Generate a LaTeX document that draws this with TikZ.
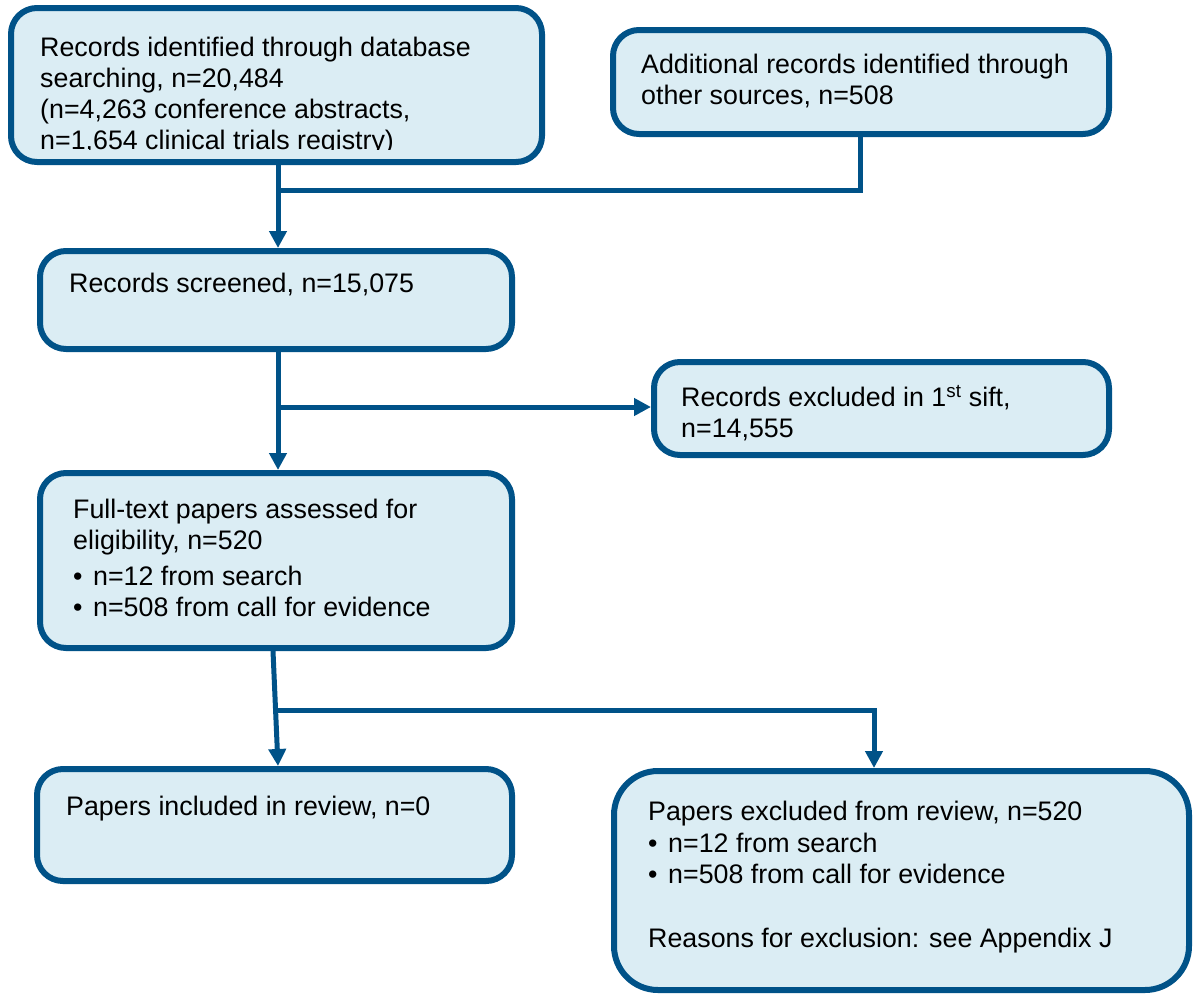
\documentclass[tikz,border=0pt]{standalone}
\usepackage{fontspec}
\setmainfont{Liberation Sans}
\usetikzlibrary{arrows.meta}
\definecolor{boxline}{RGB}{0,82,136}
\definecolor{boxfill}{RGB}{219,237,244}
\begin{document}
\begin{tikzpicture}[x=1pt,y=-1pt,
  flowbox/.style={draw=boxline,fill=boxfill,line width=6pt,rounded corners=26pt,inner sep=0pt},
  boxtext/.style={anchor=north west,inner sep=0pt,align=left,font=\fontsize{26.8}{31}\selectfont,text=black},
  link/.style={draw=boxline,line width=5pt},
  arr/.style={link,-{Triangle[width=17pt,length=17pt]}}]
\useasboundingbox (0,0) rectangle (1197,994);
% boxes
\node[flowbox,minimum width=531pt,minimum height=154pt] (b1) at (276.5,85) {};
\node[flowbox,minimum width=496pt,minimum height=104pt] (b2) at (861,82) {};
\node[flowbox,minimum width=472pt,minimum height=98pt] (b3) at (276,300) {};
\node[flowbox,minimum width=455pt,minimum height=93pt] (b4) at (881.5,408.5) {};
\node[flowbox,minimum width=472pt,minimum height=175pt] (b5) at (276,560.5) {};
\node[flowbox,minimum width=475pt,minimum height=112pt] (b6) at (274.5,825) {};
\node[flowbox,minimum width=575pt,minimum height=219pt,rounded corners=44pt] (b7) at (901.5,880.5) {};
% texts
\begin{scope}
\clip (20,20) rectangle (530,149);
\node[boxtext] (t1) at (40,36.5) {Records identified through database\\searching, n=20,484\\(n=4,263 conference abstracts,\\n=1,654 clinical trials registry)};
\end{scope}
\node[boxtext] (t2) at (641,53.5) {Additional records identified through\\other sources, n=508};
\node[boxtext] (t3) at (69,272.5) {Records screened, n=15,075};
\node[boxtext] (t4) at (681,385.5) {Records excluded in 1\textsuperscript{st} sift,\\n=14,555};
\node[boxtext] (t5) at (73,498.5) {Full-text papers assessed for\\eligibility, n=520\\[5pt]\makebox[20pt][l]{•}n=12 from search\\\makebox[20pt][l]{•}n=508 from call for evidence};
\node[boxtext] (t6) at (66,795.5) {Papers included in review, n=0};
\node[boxtext] (t7) at (648,800.5) {Papers excluded from review, n=520\\[1pt]\makebox[20pt][l]{•}n=12 from search\\\makebox[20pt][l]{•}n=508 from call for evidence\\[33pt]Reasons for exclusion: see Appendix J};
% connectors
\coordinate (j1) at (278,190);
\coordinate (j2) at (278,407);
\coordinate (j3) at (275,710);
\draw[arr] (b1.south -| j1) -- (b3.north -| j1);
\draw[link] (j1) -| (b2.south -| 860,0);
\draw[arr] (b3.south -| j2) -- (b5.north -| j2);
\draw[arr] (j2) -- (b4.west |- j2);
\draw[arr] (b5.south -| 273,0) -- (b6.north -| 278,0);
\draw[arr] (j3) -| (b7.north -| 874,0);
\end{tikzpicture}
\end{document}
